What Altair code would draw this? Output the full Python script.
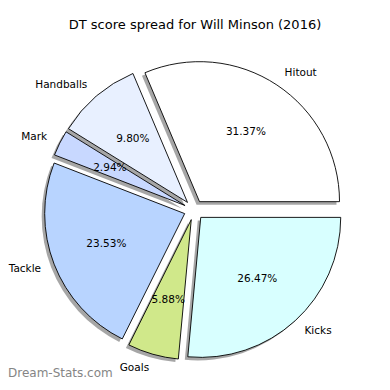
import altair as alt
import pandas as pd

# ---- data ----
labels = ["Hitout", "Handballs", "Mark", "Tackle", "Goals", "Kicks"]
shares = [31.37, 9.80, 2.94, 23.53, 5.88, 26.47]
colors = ["#ffffff", "#e8f0ff", "#c8d8ff", "#b8d4ff", "#d0e88a", "#d8ffff"]
title_text = "DT score spread for Will Minson (2016)"
watermark = "Dream-Stats.com"

df = pd.DataFrame({"label": labels, "share": shares, "idx": list(range(len(labels)))})

# layout (pixels inside the plot area)
CX, CY, R, EXPLODE = 186, 202, 140, 10
LABEL_R, PCT_R = 1.1 * R, 0.6 * R
SH_DX, SH_DY = -3, 3
FONT = "DejaVu Sans"

base = (
    alt.Chart(df)
    .transform_joinaggregate(total="sum(share)")
    .transform_window(cum="sum(share)", sort=[alt.SortField("idx")], frame=[None, 0])
    .transform_calculate(t1="PI/2 - (datum.cum - datum.share)/datum.total*2*PI")
    .transform_calculate(t2="PI/2 - datum.cum/datum.total*2*PI")
    .transform_calculate(mid="(datum.t1 + datum.t2)/2")
    .transform_calculate(ex=f"{CX} + {EXPLODE}*sin(datum.mid)")
    .transform_calculate(ey=f"{CY} - {EXPLODE}*cos(datum.mid)")
    .transform_calculate(sx=f"datum.ex + {SH_DX}")
    .transform_calculate(sy=f"datum.ey + {SH_DY}")
    .transform_calculate(lx=f"datum.ex + {LABEL_R}*sin(datum.mid)")
    .transform_calculate(ly=f"datum.ey - {LABEL_R}*cos(datum.mid)")
    .transform_calculate(px=f"datum.ex + {PCT_R}*sin(datum.mid)")
    .transform_calculate(py=f"datum.ey - {PCT_R}*cos(datum.mid)")
    .transform_calculate(pct="format(datum.share, '.2f') + '%'")
    .transform_calculate(side="sin(datum.mid) > 0 ? 'right' : 'left'")
)

th = alt.Theta("t1:Q", scale=None)
th2 = alt.Theta2("t2:Q")

shadow = base.mark_arc(radius=R, fill="black", opacity=0.35).encode(
    x=alt.X("sx:Q", scale=None, axis=None),
    y=alt.Y("sy:Q", scale=None, axis=None),
    theta=th, theta2=th2,
)

wedges = base.mark_arc(radius=R, stroke="black", strokeWidth=0.9).encode(
    x=alt.X("ex:Q", scale=None, axis=None),
    y=alt.Y("ey:Q", scale=None, axis=None),
    theta=th, theta2=th2,
    color=alt.Color("label:N", scale=alt.Scale(domain=labels, range=colors), legend=None),
)

pct_text = base.mark_text(font=FONT, fontSize=10.5, color="black", baseline="middle", align="center").encode(
    x=alt.X("px:Q", scale=None, axis=None),
    y=alt.Y("py:Q", scale=None, axis=None),
    text="pct:N",
)

lab_right = base.transform_filter("datum.side == 'right'").mark_text(
    font=FONT, fontSize=10.5, color="black", baseline="middle", align="left"
).encode(
    x=alt.X("lx:Q", scale=None, axis=None),
    y=alt.Y("ly:Q", scale=None, axis=None),
    text="label:N",
)

lab_left = base.transform_filter("datum.side == 'left'").mark_text(
    font=FONT, fontSize=10.5, color="black", baseline="middle", align="right"
).encode(
    x=alt.X("lx:Q", scale=None, axis=None),
    y=alt.Y("ly:Q", scale=None, axis=None),
    text="label:N",
)

title = alt.Chart(pd.DataFrame({"t": [title_text]})).mark_text(
    font=FONT, fontSize=13, color="black", baseline="middle", align="center"
).encode(text="t:N", x=alt.value(187), y=alt.value(17))

wm = alt.Chart(pd.DataFrame({"t": [watermark]})).mark_text(
    font=FONT, fontSize=12, color="#858585", baseline="alphabetic", align="left"
).encode(text="t:N", x=alt.value(0), y=alt.value(369))

chart = (
    alt.layer(shadow, wedges, pct_text, lab_right, lab_left, title, wm)
    .properties(width=374, height=374, autosize=alt.AutoSizeParams(type="none"), padding=0)
    .configure_view(stroke=None)
)

chart.save("out.html", embed_options={"renderer": "svg", "actions": False})
